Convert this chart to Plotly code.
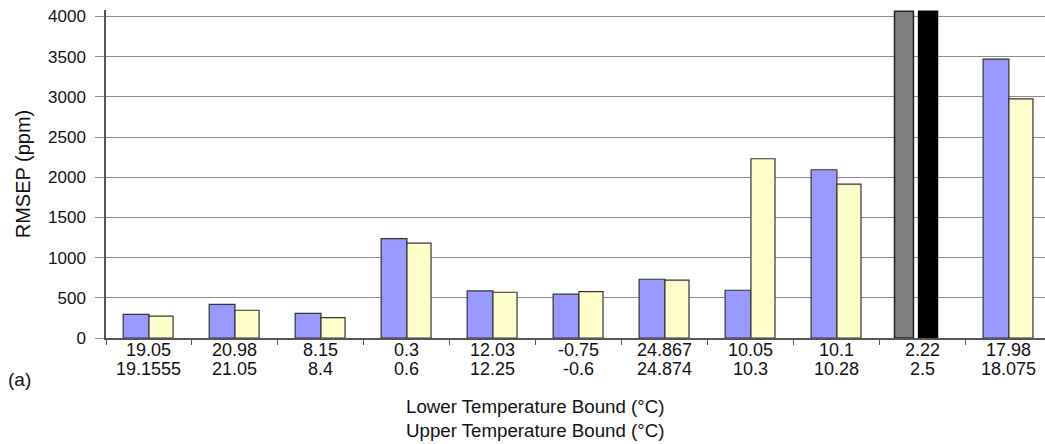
import plotly.graph_objects as go

lower_bounds = ["19.05", "20.98", "8.15", "0.3", "12.03", "-0.75", "24.867", "10.05", "10.1", "2.22", "17.98"]
upper_bounds = ["19.1555", "21.05", "8.4", "0.6", "12.25", "-0.6", "24.874", "10.3", "10.28", "2.5", "18.075"]

series_a = [295, 418, 307, 1237, 586, 545, 731, 594, 2093, None, 3470]
series_b = [272, 345, 253, 1180, 569, 578, 719, 2230, 1915, None, 2974]
offscale_a = [None, None, None, None, None, None, None, None, None, 4066, None]
offscale_b = [None, None, None, None, None, None, None, None, None, 4066, None]

FONT = "Liberation Sans, Arial, Helvetica, sans-serif"
cats = [f"{lo} / {up}" for lo, up in zip(lower_bounds, upper_bounds)]

fig = go.Figure()
fig.add_trace(go.Bar(x=cats, y=series_a, width=0.30, offset=-0.30,
                     marker=dict(color="#9999FF", line=dict(color="#333333", width=1.2)),
                     showlegend=False))
fig.add_trace(go.Bar(x=cats, y=series_b, width=0.28, offset=0.0,
                     marker=dict(color="#FFFFCC", line=dict(color="#333333", width=1.2)),
                     showlegend=False))
fig.add_trace(go.Bar(x=cats, y=offscale_a, width=0.22, offset=-0.33,
                     marker=dict(color="#808080", line=dict(color="#222222", width=1.5)),
                     showlegend=False))
fig.add_trace(go.Bar(x=cats, y=offscale_b, width=0.22, offset=-0.05,
                     marker=dict(color="#000000", line=dict(color="#000000", width=1.5)),
                     showlegend=False))

annotations = []
# two-row category labels (lower bound / upper bound)
for c, lo, up in zip(cats, lower_bounds, upper_bounds):
    annotations.append(dict(text=lo, xref="x", yref="paper", x=c, y=-0.0366,
                            xanchor="center", yanchor="middle", showarrow=False,
                            font=dict(size=18, color="#111111")))
    annotations.append(dict(text=up, xref="x", yref="paper", x=c, y=-0.0945,
                            xanchor="center", yanchor="middle", showarrow=False,
                            font=dict(size=18, color="#111111")))
annotations += [
    dict(text="Lower Temperature Bound (°C)<br>Upper Temperature Bound (°C)",
         xref="paper", yref="paper", x=0.457, y=-0.245,
         xanchor="center", yanchor="middle", showarrow=False,
         font=dict(size=18.7, color="#111111")),
    dict(text="(a)", xref="paper", yref="paper", x=-0.106, y=-0.128,
         xanchor="left", yanchor="middle", showarrow=False,
         font=dict(size=19, color="#111111")),
]

fig.update_layout(
    width=1045, height=444,
    margin=dict(l=106, r=0, t=10, b=106),
    barmode="overlay",
    plot_bgcolor="white", paper_bgcolor="white",
    font=dict(family=FONT, size=17, color="#111111"),
    xaxis=dict(
        type="category", categoryorder="array", categoryarray=cats,
        showticklabels=False,
        range=[-0.5, 10.42],
        showgrid=False, zeroline=False,
        showline=True, linecolor="#555555", linewidth=1.5,
        ticks="outside", ticklen=5, tickcolor="#555555",
        tickson="boundaries",
    ),
    yaxis=dict(
        range=[0, 4080], tickmode="linear", tick0=0, dtick=500,
        showgrid=True, gridcolor="#8c8c8c", gridwidth=1.2,
        zeroline=False,
        showline=True, linecolor="#555555", linewidth=1.5,
        ticks="outside", ticklen=9, tickcolor="#8c8c8c",
        ticklabelstandoff=6,
        tickfont=dict(size=17, color="#111111"),
        title=dict(text="RMSEP (ppm)", font=dict(size=20, color="#111111"), standoff=12),
    ),
    annotations=annotations,
)

fig.write_html("out.html")
